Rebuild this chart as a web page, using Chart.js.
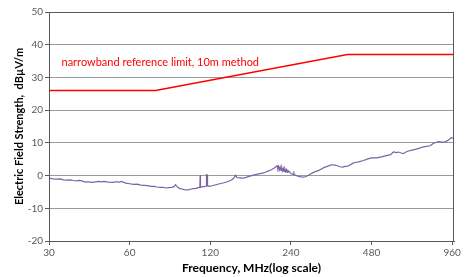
<!DOCTYPE html>
<html>
<head>
<meta charset="utf-8">
<script src="https://cdn.jsdelivr.net/npm/chart.js@4.4.1/dist/chart.umd.min.js"></script>
<style>
  html, body { margin: 0; padding: 0; background: #fff; }
  #wrap { width: 465px; height: 277px; }
</style>
</head>
<body>
<div id="wrap"><canvas id="myChart"></canvas></div>
<script>
// tick labels on the log frequency axis
const xTicks = [30, 60, 120, 240, 480, 960];

const freqMHz = [
  30, 31, 32, 33, 34, 35, 36, 37, 38, 39, 40, 41, 42, 43, 44, 45, 46, 47, 48, 50,
  52, 53, 55, 56, 58, 60, 62, 64, 66, 68, 70, 72, 74, 76, 78, 80, 82, 84, 86, 88,
  89, 90, 92, 94, 96, 98, 100, 102, 104, 106, 108, 109.7, 110, 110.3, 112, 114, 115.7, 116, 116.3, 116.9,
  117.2, 119, 122, 126, 130, 135, 140, 145, 148, 149, 151, 155, 160, 165, 170, 175, 182, 190, 196, 202,
  208, 213, 214.5, 216, 217.5, 219, 220.5, 222, 223.5, 225, 226.5, 228, 229.5, 231, 232.5, 234, 237, 240, 245.6, 246,
  246.4, 248, 255, 262, 268, 275, 283, 290, 298,
  305, 313, 320, 328, 335, 342, 350, 358, 366, 374, 382, 392, 400, 410, 418, 430, 448, 465, 480, 501,
  523, 545, 565, 579, 595, 605, 620, 631, 645, 659, 680, 699, 720, 749, 770, 795, 815, 835, 851, 875,
  904, 928, 952, 968
];
const fieldStrength = [
  -0.8, -1.0, -1.1, -1.0, -1.3, -1.4, -1.3, -1.5, -1.6, -1.5, -1.7, -2.0, -1.9, -2.1, -2.0, -1.9, -1.8, -1.9, -1.8, -2.0,
  -2.1, -1.9, -2.0, -1.8, -2.3, -2.5, -2.7, -2.6, -2.9, -3.0, -3.1, -3.3, -3.3, -3.5, -3.6, -3.6, -3.8, -3.7, -3.6, -3.4,
  -2.8, -3.3, -3.9, -4.1, -4.3, -4.4, -4.3, -4.1, -4.0, -3.9, -3.7, -3.6, 0.1, -3.6, -3.4, -3.4, -3.2, 0.5, -3.0, 0.3,
  -3.1, -3.3, -3.1, -2.8, -2.5, -2.2, -1.8, -1.2, -0.4, 0.1, -0.6, -0.7, -0.8, -0.4, -0.1, 0.2, 0.5, 0.8, 1.3, 1.7,
  2.3, 3.0, 2.1, 2.8, 1.8, 2.6, 1.6, 2.4, 1.4, 2.2, 1.3, 2.0, 1.2, 1.8, 1.0, 1.5, 1.2, 0.6, 0.3, 1.3,
  0.3, 0.2, -0.2, -0.4, -0.5, -0.2, 0.4, 0.9, 1.3,
  1.6, 2.1, 2.5, 2.8, 3.1, 3.3, 3.2, 3.0, 2.7, 2.6, 2.8, 2.9, 3.3, 3.8, 4.0, 4.2, 4.6, 5.1, 5.4, 5.4,
  5.7, 6.1, 6.4, 7.2, 7.0, 7.2, 6.9, 6.7, 7.2, 7.5, 7.8, 8.0, 8.3, 8.8, 8.9, 9.1, 9.8, 10.1, 10.4, 10.2,
  10.3, 10.8, 11.6, 11.4
];

// narrowband reference limit, 10m method
const limitFreq = [30, 75, 390, 975];
const limitLevel = [26, 26, 37, 37];

const limitLabel = 'narrowband reference limit, 10m method';

const measured = freqMHz.map((f, i) => ({x: f, y: fieldStrength[i]}));
const limit = limitFreq.map((f, i) => ({x: f, y: limitLevel[i]}));

const frame = {
  id: 'frame',
  afterDraw(chart) {
    const {ctx, chartArea: a, scales} = chart;
    ctx.save();
    ctx.strokeStyle = '#595959';
    ctx.lineWidth = 1;
    ctx.strokeRect(a.left + 0.5, a.top + 0.5, a.right - a.left - 1, a.bottom - a.top);
    ctx.fillStyle = '#ff0000';
    ctx.font = '11px Lato, "Open Sans", sans-serif';
    ctx.textBaseline = 'middle';
    ctx.fillText(limitLabel, scales.x.getPixelForValue(33.4), scales.y.getPixelForValue(34.5));
    ctx.restore();
  }
};

const ctx = document.getElementById('myChart');

const myChart = new Chart(ctx, {
  type: 'line',
  data: {
    datasets: [{
      data: limit,
      borderColor: '#ff0000',
      borderWidth: 1.5,
      pointRadius: 0,
      tension: 0
    }, {
      data: measured,
      borderColor: '#7b62a6',
      borderWidth: 1.2,
      pointRadius: 0,
      tension: 0
    }]
  },
  options: {
    responsive: true,
    maintainAspectRatio: false,
    animation: false,
    layout: {padding: {left: 0, right: 11, top: 12, bottom: 0}},
    scales: {
      x: {
        type: 'logarithmic',
        min: 30,
        max: 975,
        afterBuildTicks: function (scale) {
          scale.ticks = xTicks.map(v => ({value: v}));
        },
        afterFit: function (scale) {
          scale.height = 36;
        },
        ticks: {
          autoSkip: false,
          maxRotation: 0,
          padding: 2,
          color: '#595959',
          font: {family: 'Lato, "Open Sans", sans-serif', size: 10},
          callback: function (value) { return String(value); }
        },
        grid: {
          drawOnChartArea: false,
          drawTicks: true,
          tickLength: 4,
          color: '#595959'
        },
        border: {display: true, color: '#595959'},
        title: {
          display: true,
          text: 'Frequency, MHz(log scale)',
          color: '#000',
          padding: {top: 0, bottom: 2},
          font: {family: 'Lato, "Open Sans", sans-serif', size: 12, weight: 'bold'}
        }
      },
      y: {
        min: -20,
        max: 50,
        afterFit: function (scale) {
          scale.width = 49;
        },
        ticks: {
          stepSize: 10,
          padding: 2,
          color: '#595959',
          font: {family: 'Lato, "Open Sans", sans-serif', size: 10}
        },
        grid: {
          color: '#9a9a9a',
          tickLength: 4,
          tickColor: '#595959'
        },
        border: {display: true, color: '#595959'},
        title: {
          display: true,
          text: 'Electric Field Strength,  dBµV/m',
          color: '#000',
          padding: {top: 13, bottom: 0},
          font: {family: 'Lato, "Open Sans", sans-serif', size: 11, weight: 'bold'}
        }
      }
    },
    plugins: {
      legend: {display: false},
      tooltip: {enabled: false}
    }
  },
  plugins: [frame]
});
</script>
</body>
</html>
